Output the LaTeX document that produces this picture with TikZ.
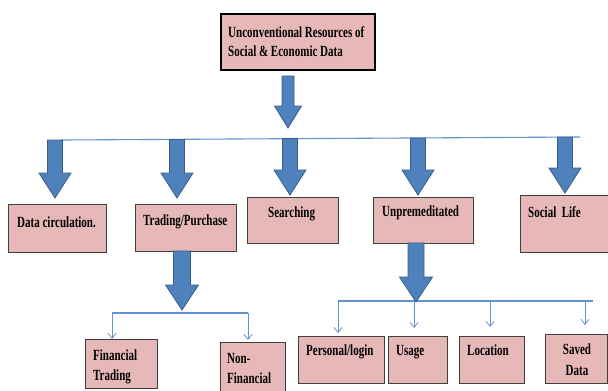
\documentclass[tikz,border=0pt]{standalone}
\usepackage{fontspec}
\setmainfont{Liberation Serif}[FakeStretch=0.71]
\usetikzlibrary{arrows.meta,calc}

\definecolor{boxpink}{RGB}{230,184,183}
\definecolor{boxedge}{RGB}{64,64,64}
\definecolor{arrowblue}{RGB}{79,129,189}
\definecolor{arrowedge}{RGB}{56,93,138}
\definecolor{linkblue}{RGB}{100,145,210}

\tikzset{
    box/.style={draw=boxedge, fill=boxpink, line width=0.9pt, inner sep=0pt, anchor=north west},
    topbox/.style={box, draw=black, line width=2.4pt},
    lbl/.style={font=\fontsize{15.5}{18}\selectfont\bfseries, inner sep=0pt, anchor=base west},
    hline/.style={draw=linkblue, line width=1.1pt},
    thinarrow/.style={draw=linkblue, line width=0.8pt, -{Straight Barb[length=5pt,width=8pt]}},
    blockarrow/.style={fill=arrowblue, draw=arrowedge, line width=0.8pt},
}

% block arrow from #1 down to #2: half shaft #3, half head #4, head length #5
\newcommand{\blockarrow}[5]{%
    \path[blockarrow] let \p1=#1, \p2=#2 in
        (\x1-#3,\y1) -- (\x1+#3,\y1) -- (\x1+#3,\y2+#5) -- (\x1+#4,\y2+#5)
        -- (\x1,\y2) -- (\x1-#4,\y2+#5) -- (\x1-#3,\y2+#5) -- cycle;}

\begin{document}
\begin{tikzpicture}[x=1pt, y=1pt]
    \useasboundingbox (0,0) rectangle (608,-391);

    \node[topbox, minimum width=154pt, minimum height=56pt] (root) at (220,-13) {};
    \node[lbl] (roottxt1) at (228,-37) {Unconventional Resources of};
    \node[lbl] (roottxt2) at (228,-56) {Social \& Economic Data};

    \node[box, minimum width=98pt, minimum height=48pt] (dc) at (8,-204) {};
    \node[box, minimum width=101pt, minimum height=47pt] (trade) at (135,-204) {};
    \node[box, minimum width=91pt, minimum height=46pt] (search) at (247,-197) {};
    \node[box, minimum width=100pt, minimum height=46pt] (unprem) at (373,-197) {};
    \node[box, minimum width=95pt, minimum height=57pt] (social) at (520,-195) {};

    \node[lbl] (dctxt) at (17,-227) {Data circulation.};
    \node[lbl] (tradetxt) at (143,-225) {Trading/Purchase};
    \node[lbl] (searchtxt) at (268,-217) {Searching};
    \node[lbl] (unpremtxt) at (382,-216) {Unpremeditated};
    \node[lbl] (socialtxt) at (528,-217) {Social\ \ Life};

    \node[box, minimum width=72pt, minimum height=49pt] (fin) at (85,-339) {};
    \node[box, minimum width=65pt, minimum height=60pt] (nonfin) at (220,-342) {};
    \node[box, minimum width=86pt, minimum height=47pt] (pers) at (298,-336) {};
    \node[box, minimum width=59pt, minimum height=47pt] (usage) at (388,-336) {};
    \node[box, minimum width=65pt, minimum height=47pt] (loc) at (459,-336) {};
    \node[box, minimum width=62pt, minimum height=49pt] (saved) at (545,-334) {};

    \node[lbl] (fintxt1) at (93,-360) {Financial};
    \node[lbl] (fintxt2) at ([yshift=-20pt]fintxt1.base west) {Trading};
    \node[lbl] (nonfintxt1) at (227,-363) {Non-};
    \node[lbl] (nonfintxt2) at ([yshift=-20pt]nonfintxt1.base west) {Financial};
    \node[lbl] (perstxt) at (306,-355) {Personal/login};
    \node[lbl] (usagetxt) at (396,-355) {Usage};
    \node[lbl] (loctxt) at (467,-355) {Location};
    \node[lbl, anchor=base] (savedtxt1) at (577,-354) {Saved};
    \node[lbl, anchor=base] (savedtxt2) at ([yshift=-21pt]savedtxt1.base) {Data};

    % main branch line
    \coordinate (mainl) at (62,-140);
    \coordinate (mainr) at (580,-137);
    \draw[hline] (mainl) -- (mainr);

    \coordinate (rootout) at (288,-76);
    \coordinate (rootin) at (288,-128);
    \blockarrow{(rootout)}{(rootin)}{6pt}{13.5pt}{22pt}

    \coordinate (dcin) at (55,-140);
    \coordinate (tradein) at (177,-139.5);
    \coordinate (searchin) at (290,-138.5);
    \coordinate (unpremin) at (418,-138);
    \coordinate (socialin) at (565,-137);
    \blockarrow{(dcin)}{([yshift=6pt]dc.north)}{7.5pt}{16pt}{25pt}
    \blockarrow{(tradein)}{([yshift=6pt]trade.north)}{7.5pt}{16pt}{25pt}
    \blockarrow{(searchin)}{([yshift=2pt]search.north)}{7.5pt}{16pt}{25pt}
    \blockarrow{(unpremin)}{([yshift=2pt]unprem.north)}{7.5pt}{16pt}{25pt}
    \blockarrow{(socialin)}{([yshift=2pt]social.north)}{7.5pt}{16pt}{25pt}

    % trading sub branch
    \coordinate (tradel) at (112,-313);
    \coordinate (trader) at (248,-313);
    \draw[hline] (tradel) -- (trader);
    \coordinate (tradeout) at (182,-251);
    \blockarrow{(tradeout)}{(182,-310)}{8.5pt}{16.5pt}{25pt}
    \draw[thinarrow] (tradel) -- (tradel |- fin.north);
    \draw[thinarrow, shorten >=2pt] (trader) -- (trader |- nonfin.north);

    % unpremeditated sub branch
    \coordinate (unpreml) at (338,-301);
    \coordinate (unpremr) at (593,-301);
    \draw[hline] (unpreml) -- (unpremr);
    \coordinate (unpremout) at (416,-243);
    \blockarrow{(unpremout)}{(416,-302)}{8pt}{16.5pt}{25pt}
    \coordinate (usagein) at (414,-301);
    \coordinate (locin) at (490,-301);
    \coordinate (savedin) at (585,-301);
    \draw[thinarrow, shorten >=3pt] (unpreml) -- (unpreml |- pers.north);
    \draw[thinarrow, shorten >=8pt] (usagein) -- (usagein |- usage.north);
    \draw[thinarrow, shorten >=9pt] (locin) -- (locin |- loc.north);
    \draw[thinarrow, shorten >=9pt] (savedin) -- (savedin |- saved.north);
\end{tikzpicture}
\end{document}
